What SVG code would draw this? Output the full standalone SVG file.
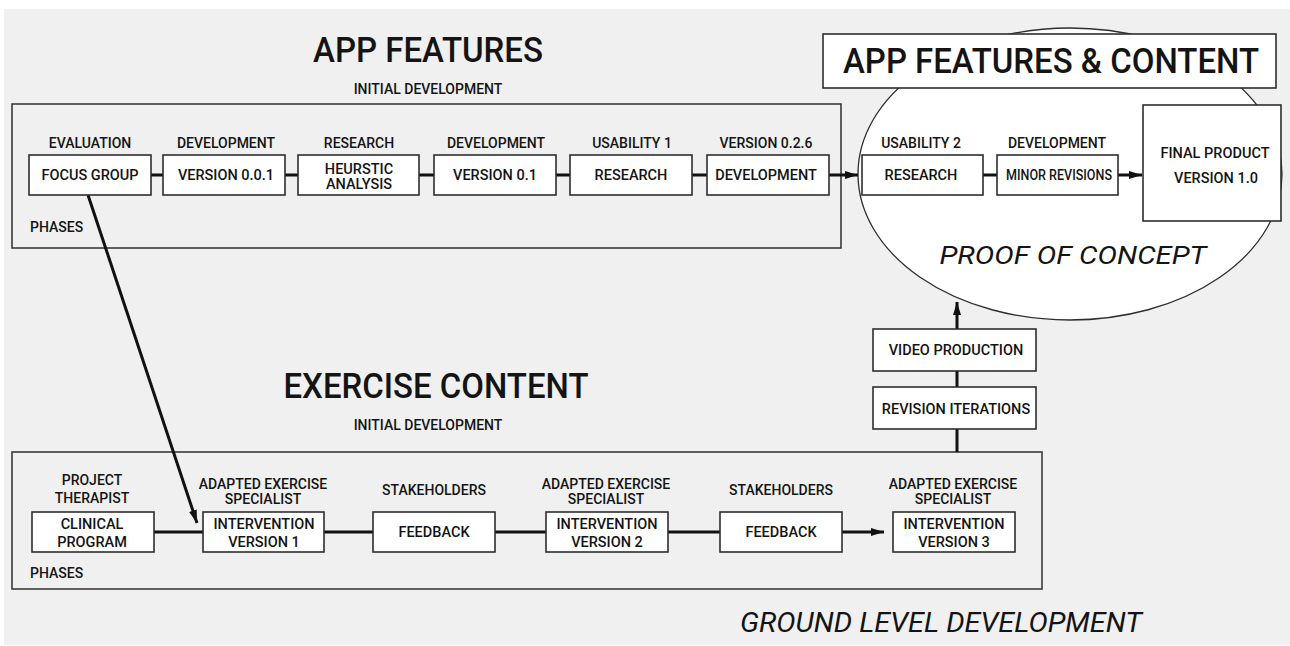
<svg xmlns="http://www.w3.org/2000/svg" width="1290" height="646" viewBox="0 0 1290 646">
  <defs>
    <style>
      .bg { fill: #eff0ef; }
      .frame { fill: none; stroke: #3a3a3a; stroke-width: 1.6; }
      .node rect { fill: #ffffff; stroke: #2e2e2e; stroke-width: 1.6; }
      .wire { stroke: #111111; stroke-width: 3; fill: none; }
      text { font-family: Roboto, "Liberation Sans", sans-serif; fill: #141414; }
      .lbl { font-size: 14px; font-weight: 500; text-anchor: middle; }
      .in { font-size: 14.5px; font-weight: 500; text-anchor: middle; }
      .title { font-size: 35px; font-weight: 500; text-anchor: middle; }
      .it { font-style: italic; font-weight: 400; text-anchor: middle; }
      .phase { font-size: 14px; font-weight: 500; }
    </style>
    <marker id="arrow" markerWidth="13" markerHeight="8" refX="13" refY="4" orient="auto" markerUnits="userSpaceOnUse">
      <path d="M0,0 L13,4 L0,8 Z" fill="#111111"/>
    </marker>
  </defs>

  <!-- page -->
  <rect x="0" y="0" width="1290" height="646" fill="#ffffff"/>
  <rect class="bg" x="4" y="9" width="1286" height="636"/>

  <!-- section frames -->
  <g id="app-features-section">
    <text class="title" x="428" y="62" textLength="230" lengthAdjust="spacingAndGlyphs">APP FEATURES</text>
    <text class="lbl" x="428" y="94">INITIAL DEVELOPMENT</text>
    <rect class="frame" x="12" y="104" width="829" height="144"/>
    <text class="phase" x="30" y="232">PHASES</text>
  </g>

  <g id="exercise-content-section">
    <text class="title" x="436" y="398" textLength="305" lengthAdjust="spacingAndGlyphs">EXERCISE CONTENT</text>
    <text class="lbl" x="428" y="430">INITIAL DEVELOPMENT</text>
    <rect class="frame" x="12" y="452" width="1030" height="137"/>
    <text class="phase" x="30" y="578">PHASES</text>
  </g>

  <g id="proof-of-concept">
    <ellipse cx="1070" cy="174" rx="212" ry="146" fill="#ffffff" stroke="#2e2e2e" stroke-width="1.3"/>
    <text class="it" x="1073" y="264" font-size="26" textLength="267" lengthAdjust="spacingAndGlyphs">PROOF OF CONCEPT</text>
  </g>

  <g id="app-features-content-title">
    <rect x="823" y="34" width="453" height="54" fill="#ffffff" stroke="#2e2e2e" stroke-width="1.6"/>
    <text class="title" x="1051" y="73" textLength="416" lengthAdjust="spacingAndGlyphs">APP FEATURES &amp; CONTENT</text>
  </g>

  <text id="ground-level" class="it" x="941" y="632" font-size="27" textLength="402" lengthAdjust="spacingAndGlyphs">GROUND LEVEL DEVELOPMENT</text>

  <!-- connectors -->
  <g id="connectors">
    <line class="wire" x1="151" y1="175" x2="163" y2="175"/>
    <line class="wire" x1="285" y1="175" x2="298" y2="175"/>
    <line class="wire" x1="419" y1="175" x2="434" y2="175"/>
    <line class="wire" x1="556" y1="175" x2="570" y2="175"/>
    <line class="wire" x1="692" y1="175" x2="707" y2="175"/>
    <line class="wire" x1="829" y1="175" x2="858" y2="175" marker-end="url(#arrow)"/>
    <line class="wire" x1="983" y1="175" x2="997" y2="175"/>
    <line class="wire" x1="1118" y1="175" x2="1142" y2="175" marker-end="url(#arrow)"/>

    <line class="wire" x1="88" y1="195" x2="197" y2="523" marker-end="url(#arrow)"/>

    <line class="wire" x1="154" y1="532" x2="203" y2="532"/>
    <line class="wire" x1="324" y1="532" x2="373" y2="532"/>
    <line class="wire" x1="495" y1="532" x2="546" y2="532"/>
    <line class="wire" x1="668" y1="532" x2="720" y2="532"/>
    <line class="wire" x1="842" y1="532" x2="884" y2="532" marker-end="url(#arrow)"/>

    <line class="wire" x1="957" y1="452" x2="957" y2="429"/>
    <line class="wire" x1="957" y1="387" x2="957" y2="371"/>
    <line class="wire" x1="957" y1="329" x2="957" y2="302" marker-end="url(#arrow)"/>
  </g>

  <!-- app feature phases -->
  <g id="focus-group" class="node">
    <text class="lbl" x="90" y="148">EVALUATION</text>
    <rect x="29" y="155" width="122" height="40"/>
    <text class="in" x="90" y="180">FOCUS GROUP</text>
  </g>
  <g id="version-001" class="node">
    <text class="lbl" x="226" y="148">DEVELOPMENT</text>
    <rect x="163" y="155" width="122" height="40"/>
    <text class="in" x="226" y="180">VERSION 0.0.1</text>
  </g>
  <g id="heuristic-analysis" class="node">
    <text class="lbl" x="359" y="148">RESEARCH</text>
    <rect x="298" y="155" width="121" height="40"/>
    <text class="in" x="359" y="174">HEURSTIC</text>
    <text class="in" x="359" y="189">ANALYSIS</text>
  </g>
  <g id="version-01" class="node">
    <text class="lbl" x="496" y="148">DEVELOPMENT</text>
    <rect x="434" y="155" width="122" height="40"/>
    <text class="in" x="495" y="180">VERSION 0.1</text>
  </g>
  <g id="usability-1" class="node">
    <text class="lbl" x="632" y="148">USABILITY 1</text>
    <rect x="570" y="155" width="122" height="40"/>
    <text class="in" x="631" y="180">RESEARCH</text>
  </g>
  <g id="version-026" class="node">
    <text class="lbl" x="766" y="148">VERSION 0.2.6</text>
    <rect x="707" y="155" width="122" height="40"/>
    <text class="in" x="766" y="180">DEVELOPMENT</text>
  </g>

  <!-- proof of concept phases -->
  <g id="usability-2" class="node">
    <text class="lbl" x="921" y="148">USABILITY 2</text>
    <rect x="862" y="155" width="121" height="40"/>
    <text class="in" x="921" y="180">RESEARCH</text>
  </g>
  <g id="minor-revisions" class="node">
    <text class="lbl" x="1057" y="148">DEVELOPMENT</text>
    <rect x="997" y="155" width="121" height="40"/>
    <text class="in" x="1059" y="180" font-size="13" textLength="106" lengthAdjust="spacingAndGlyphs">MINOR REVISIONS</text>
  </g>
  <g id="final-product" class="node">
    <rect x="1143" y="105" width="138" height="116"/>
    <text class="in" x="1215" y="158">FINAL PRODUCT</text>
    <text class="in" x="1216" y="183">VERSION 1.0</text>
  </g>

  <!-- content pipeline -->
  <g id="video-production" class="node">
    <rect x="873" y="329" width="163" height="42"/>
    <text class="in" x="956" y="355">VIDEO PRODUCTION</text>
  </g>
  <g id="revision-iterations" class="node">
    <rect x="873" y="387" width="163" height="42"/>
    <text class="in" x="956" y="414">REVISION ITERATIONS</text>
  </g>

  <!-- exercise content phases -->
  <g id="clinical-program" class="node">
    <text class="lbl" x="92" y="485">PROJECT</text>
    <text class="lbl" x="92" y="503">THERAPIST</text>
    <rect x="32" y="512" width="122" height="40"/>
    <text class="in" x="92" y="529">CLINICAL</text>
    <text class="in" x="92" y="547">PROGRAM</text>
  </g>
  <g id="intervention-1" class="node">
    <text class="lbl" x="263" y="489">ADAPTED EXERCISE</text>
    <text class="lbl" x="263" y="504">SPECIALIST</text>
    <rect x="203" y="512" width="121" height="40"/>
    <text class="in" x="264" y="529">INTERVENTION</text>
    <text class="in" x="264" y="547">VERSION 1</text>
  </g>
  <g id="feedback-1" class="node">
    <text class="lbl" x="434" y="495">STAKEHOLDERS</text>
    <rect x="373" y="512" width="122" height="40"/>
    <text class="in" x="434" y="537">FEEDBACK</text>
  </g>
  <g id="intervention-2" class="node">
    <text class="lbl" x="606" y="489">ADAPTED EXERCISE</text>
    <text class="lbl" x="606" y="504">SPECIALIST</text>
    <rect x="546" y="512" width="122" height="40"/>
    <text class="in" x="607" y="529">INTERVENTION</text>
    <text class="in" x="607" y="547">VERSION 2</text>
  </g>
  <g id="feedback-2" class="node">
    <text class="lbl" x="781" y="495">STAKEHOLDERS</text>
    <rect x="720" y="512" width="122" height="40"/>
    <text class="in" x="781" y="537">FEEDBACK</text>
  </g>
  <g id="intervention-3" class="node">
    <text class="lbl" x="953" y="489">ADAPTED EXERCISE</text>
    <text class="lbl" x="953" y="504">SPECIALIST</text>
    <rect x="893" y="512" width="122" height="40"/>
    <text class="in" x="954" y="529">INTERVENTION</text>
    <text class="in" x="954" y="547">VERSION 3</text>
  </g>
</svg>
